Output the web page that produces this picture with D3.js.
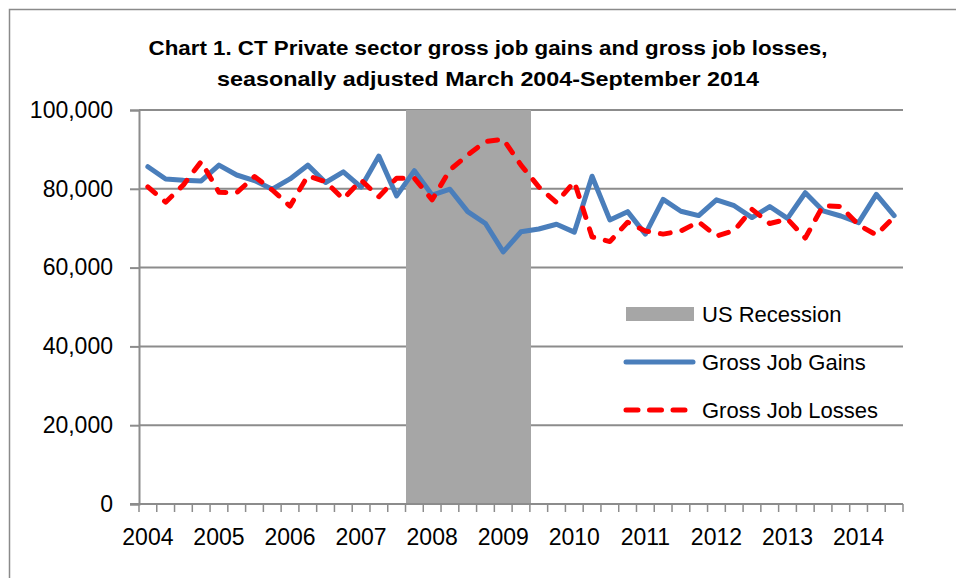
<!DOCTYPE html>
<html>
<head>
<meta charset="utf-8">
<script src="https://cdn.jsdelivr.net/npm/d3@7"></script>
<style>
  html, body { margin: 0; padding: 0; background: #ffffff; }
  svg { display: block; }
  text { font-family: "Liberation Sans", Arial, sans-serif; fill: #000; }
</style>
</head>
<body>
<svg id="chart" width="956" height="578"></svg>
<script>
// ---------- DATA ----------
const years = ["2004","2005","2006","2007","2008","2009","2010","2011","2012","2013","2014"];
const quarterMonths = ["Mar","Jun","Sep","Dec"];
const categories = years.flatMap(yr => quarterMonths.map(m => m + " " + yr)).slice(0, 43); // Mar 2004 .. Sep 2014

const gains = [85600, 82500, 82200, 82000, 86000, 83500, 82100, 79900, 82500, 86000,
               81600, 84300, 80400, 88300, 78200, 84600, 78400, 79900, 74200, 71200,
               64000, 69100, 69800, 71000, 69000, 83200, 72100, 74200, 68500, 77300,
               74300, 73200, 77200, 75700, 72700, 75500, 72500, 79000, 74400, 73100,
               71400, 78600, 73200];
const losses = [80500, 76600, 81000, 86900, 79100, 79000, 83100, 79700, 75600, 83300,
                81800, 77400, 82200, 78000, 82700, 82700, 77200, 84800, 88600, 92000,
                92600, 86000, 80500, 76500, 81800, 67800, 66600, 71500, 69300, 68500,
                69300, 71600, 68000, 69400, 74800, 71200, 72300, 67500, 75700, 75500,
                70800, 68300, 72900];
const recessionQuarters = ["Dec 2007","Mar 2008","Jun 2008","Sep 2008","Dec 2008","Mar 2009","Jun 2009"];
const recessionValue = 100000;
const yTicks = [0, 20000, 40000, 60000, 80000, 100000];
const titleLines = ["Chart 1. CT Private sector gross job gains and gross job losses,",
                    "seasonally adjusted March 2004-September 2014"];
const legendLabels = ["US Recession", "Gross Job Gains", "Gross Job Losses"];

// ---------- LAYOUT ----------
const W = 956, H = 578;
const plot = { left: 139, right: 903, top: 110, bottom: 504 };
const gridColor = "#8c8c8c";
const blue = "#4A7EBB", red = "#FF0000", grey = "#A6A6A6";

const svg = d3.select("#chart");
svg.append("rect").attr("width", W).attr("height", H).attr("fill", "#fff");

// outer frame
svg.append("rect").attr("x", 9.5).attr("y", 9.5).attr("width", W + 20).attr("height", H + 20)
   .attr("fill", "none").attr("stroke", "#8a8a8a").attr("stroke-width", 1.5);

const x = d3.scaleBand().domain(categories).range([plot.left, plot.right]).padding(0);
const y = d3.scaleLinear().domain([0, 100000]).range([plot.bottom, plot.top]);
const bw = x.bandwidth();

// title (condensed to mimic the narrow original face)
const titleTargets = [679, 542];
const titleBaselines = [55, 86];
svg.append("g").selectAll("text").data(titleLines).join("text")
  .attr("x", 488).attr("y", (d, i) => titleBaselines[i])
  .attr("text-anchor", "middle").attr("font-weight", "bold").attr("font-size", 21)
  .attr("textLength", (d, i) => titleTargets[i]).attr("lengthAdjust", "spacingAndGlyphs")
  .text(d => d);

// gridlines
svg.append("g").selectAll("line").data(yTicks.filter(d => d > 0)).join("line")
  .attr("x1", plot.left).attr("x2", plot.right)
  .attr("y1", d => y(d)).attr("y2", d => y(d))
  .attr("stroke", gridColor).attr("stroke-width", 2);

// recession bars
svg.append("g").attr("shape-rendering", "crispEdges")
  .selectAll("rect").data(recessionQuarters).join("rect")
  .attr("x", d => x(d)).attr("width", bw + 1)
  .attr("y", y(recessionValue)).attr("height", y(0) - y(recessionValue))
  .attr("fill", grey);

// y axis
const yAxis = d3.axisLeft(y).tickValues(yTicks).tickSize(9).tickPadding(17)
  .tickFormat(d3.format(","));
const yG = svg.append("g").attr("transform", `translate(${plot.left},0)`).call(yAxis);
yG.select(".domain").attr("stroke", gridColor).attr("stroke-width", 2);
yG.selectAll(".tick line").attr("stroke", gridColor).attr("stroke-width", 2);
yG.selectAll(".tick text").attr("font-size", 23).attr("font-family", "Liberation Sans, Arial, sans-serif")
  .attr("fill", "#000");

// x axis line + ticks at quarter boundaries
const xG = svg.append("g");
xG.append("line").attr("x1", plot.left - 9).attr("x2", plot.right)
  .attr("y1", y(0)).attr("y2", y(0)).attr("stroke", gridColor).attr("stroke-width", 2);
const boundaries = categories.map(c => x(c)).concat([x(categories[categories.length - 1]) + bw]);
xG.selectAll("line.tk").data(boundaries).join("line").attr("class", "tk")
  .attr("x1", d => d).attr("x2", d => d)
  .attr("y1", y(0)).attr("y2", y(0) + 8)
  .attr("stroke", gridColor).attr("stroke-width", 1.5);
xG.selectAll("text").data(years).join("text")
  .attr("x", d => x("Mar " + d) + bw / 2).attr("y", 545)
  .attr("text-anchor", "middle").attr("font-size", 23).text(d => d);

// lines
const line = d3.line().x((d, i) => x(categories[i]) + bw / 2).y(d => y(d));
svg.append("path").datum(gains).attr("d", line)
  .attr("fill", "none").attr("stroke", blue).attr("stroke-width", 5)
  .attr("stroke-linejoin", "round").attr("stroke-linecap", "round");
svg.append("path").datum(losses).attr("d", line)
  .attr("fill", "none").attr("stroke", red).attr("stroke-width", 5)
  .attr("stroke-dasharray", "10,12").attr("stroke-linejoin", "round").attr("stroke-linecap", "round");

// legend
const lg = svg.append("g");
lg.append("rect").attr("x", 626).attr("y", 307).attr("width", 68).attr("height", 14).attr("fill", grey);
lg.append("line").attr("x1", 626).attr("x2", 693).attr("y1", 362).attr("y2", 362)
  .attr("stroke", blue).attr("stroke-width", 5).attr("stroke-linecap", "round");
lg.append("line").attr("x1", 626).attr("x2", 693).attr("y1", 410).attr("y2", 410)
  .attr("stroke", red).attr("stroke-width", 5).attr("stroke-dasharray", "12,11.5")
  .attr("stroke-linecap", "round");
lg.selectAll("text").data(legendLabels).join("text")
  .attr("x", 702).attr("y", (d, i) => 322 + i * 48)
  .attr("font-size", 22).text(d => d);
</script>
</body>
</html>
